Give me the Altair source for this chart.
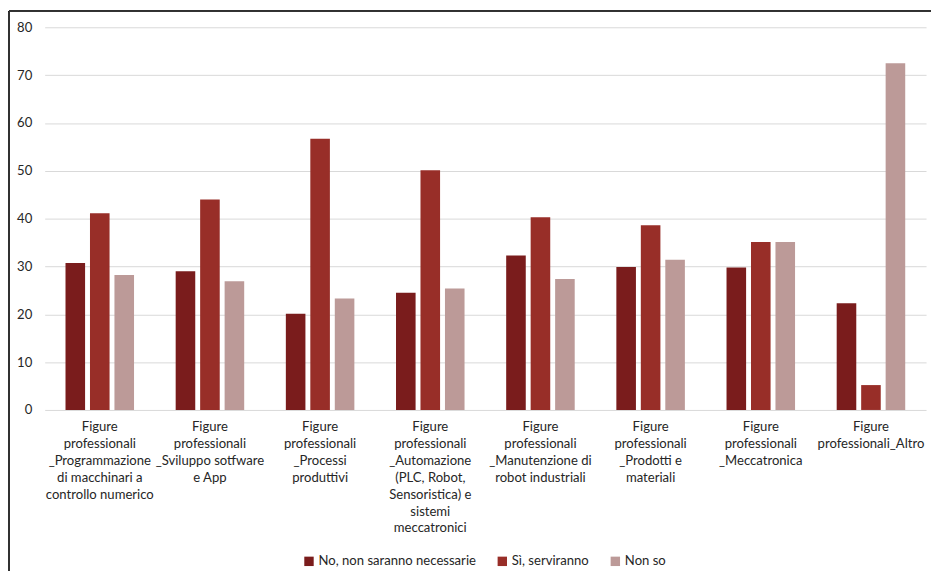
import altair as alt
import pandas as pd

categories = [
    "Figure|professionali|_Programmazione|di macchinari a|controllo numerico",
    "Figure|professionali|_Sviluppo sotfware|e App",
    "Figure|professionali|_Processi|produttivi",
    "Figure|professionali|_Automazione|(PLC, Robot,|Sensoristica) e|sistemi|meccatronici",
    "Figure|professionali|_Manutenzione di|robot industriali",
    "Figure|professionali|_Prodotti e|materiali",
    "Figure|professionali|_Meccatronica",
    "Figure|professionali_Altro",
]
series = ["No, non saranno necessarie", "Sì, serviranno", "Non so"]
no_vals = [30.7, 29.0, 20.1, 24.5, 32.3, 29.9, 29.8, 22.3]
si_vals = [41.1, 44.0, 56.7, 50.1, 40.3, 38.6, 35.1, 5.2]
nonso_vals = [28.2, 26.9, 23.3, 25.4, 27.4, 31.4, 35.1, 72.5]
colors = ["#7A1C1C", "#982E28", "#BC9A98"]

rows = []
for i, c in enumerate(categories):
    for s, vals in zip(series, [no_vals, si_vals, nonso_vals]):
        rows.append({"cat": c, "serie": s, "val": vals[i]})
df = pd.DataFrame(rows)

W, H = 889, 386
FONT = "Lato"
FS = 13.2
TXT = "#262626"

bars = alt.Chart(df).mark_bar().encode(
    x=alt.X("cat:N", sort=categories, title=None,
            scale=alt.Scale(paddingInner=0.378, paddingOuter=0.189),
            axis=alt.Axis(labelAngle=0, labelExpr="split(datum.value, '|')",
                          labelLineHeight=17, labelPadding=11, ticks=False,
                          domain=False, labelFontSize=FS, labelColor=TXT,
                          labelFont=FONT, labelAlign="center", labelBaseline="top")),
    xOffset=alt.XOffset("serie:N", sort=series,
                        scale=alt.Scale(paddingInner=0.2, paddingOuter=0)),
    y=alt.Y("val:Q", title=None,
            scale=alt.Scale(domain=[0, 80], nice=False),
            axis=alt.Axis(values=list(range(0, 81, 10)), domain=False, ticks=False,
                          labelPadding=13, labelFontSize=FS, labelColor=TXT,
                          labelFont=FONT, gridColor="#D9D9D9", gridWidth=1)),
    color=alt.Color("serie:N", sort=series,
                    scale=alt.Scale(domain=series, range=colors),
                    legend=alt.Legend(title=None, orient="none", direction="horizontal",
                                      legendX=260, legendY=532, symbolType="square",
                                      symbolSize=90, symbolStrokeWidth=0,
                                      labelFontSize=FS, labelFont=FONT,
                                      labelColor=TXT, columnPadding=20,
                                      labelOffset=3)),
)

frame_left = alt.Chart(df).mark_rule(color="#333333", strokeWidth=1.2).encode(
    x=alt.value(-36), y=alt.value(-16), y2=alt.value(H + 200))
frame_top = alt.Chart(df).mark_rule(color="#333333", strokeWidth=1.2).encode(
    x=alt.value(-36), x2=alt.value(W + 40), y=alt.value(-16))

chart = alt.layer(bars, frame_left, frame_top).properties(
    width=W, height=H,
    autosize=alt.AutoSizeParams(type="none"),
    padding={"left": 37, "top": 17, "right": 5, "bottom": 160},
).configure_view(stroke=None)

chart.save("out.html", embed_options={"renderer": "svg", "actions": False})
